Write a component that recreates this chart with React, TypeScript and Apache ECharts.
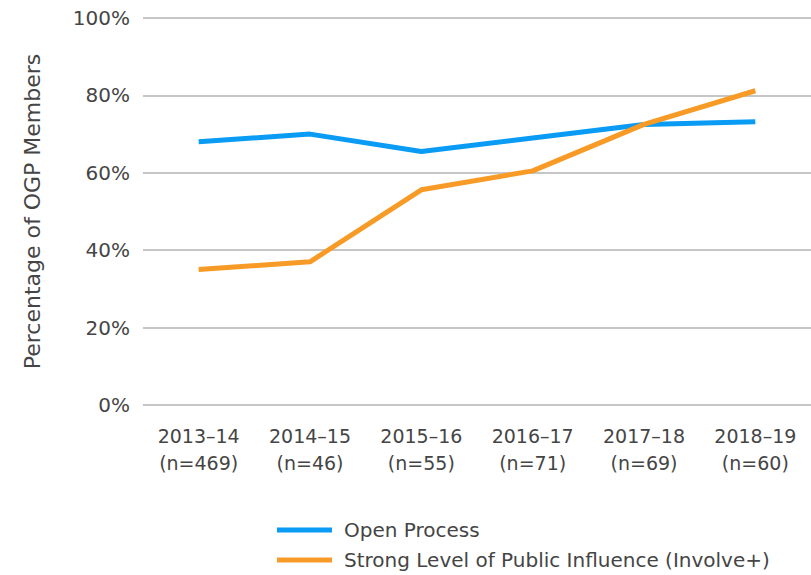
import React, { useEffect, useRef } from "react";
import * as echarts from "echarts";

const categories = [
  "2013–14\n(n=469)",
  "2014–15\n(n=46)",
  "2015–16\n(n=55)",
  "2016–17\n(n=71)",
  "2017–18\n(n=69)",
  "2018–19\n(n=60)",
];
const openProcess = [68, 70, 65.5, 69, 72.5, 73.2];
const strongInfluence = [35, 37, 55.6, 60.5, 72.5, 81.2];
const seriesNames = ["Open Process", "Strong Level of Public Influence (Involve+)"];
const yAxisName = "Percentage of OGP Members";

const FONT = "DejaVu Sans";
const TEXT = "#454545";

export default function App() {
  const ref = useRef<HTMLDivElement>(null);
  useEffect(() => {
    if (!ref.current) return;
    const chart = echarts.init(ref.current, undefined, { renderer: "svg" });
    chart.setOption({
      animation: false,
      textStyle: { fontFamily: FONT },
      grid: { left: 143, right: 0, top: 18, bottom: 170 },
      legend: {
        orient: "vertical",
        left: 277,
        top: 520,
        padding: 0,
        itemWidth: 55,
        itemHeight: 5,
        itemGap: 10,
        icon: "rect",
        textStyle: { fontFamily: FONT, fontSize: 20, color: TEXT, padding: [0, 0, 0, 7] },
        data: seriesNames,
      },
      xAxis: {
        type: "category",
        data: categories,
        boundaryGap: true,
        axisLine: { show: false },
        axisTick: { show: false },
        axisLabel: {
          fontFamily: FONT,
          fontSize: 19,
          color: TEXT,
          lineHeight: 27,
          margin: 17,
          interval: 0,
        },
      },
      yAxis: {
        type: "value",
        min: 0,
        max: 100,
        interval: 20,
        name: yAxisName,
        nameLocation: "middle",
        nameGap: 100,
        nameTextStyle: { fontFamily: FONT, fontSize: 22, color: TEXT },
        axisLine: { show: false },
        axisTick: { show: false },
        axisLabel: {
          fontFamily: FONT,
          fontSize: 20,
          color: TEXT,
          margin: 13,
          formatter: "{value}%",
        },
        splitLine: { lineStyle: { color: "#b3b3b3", width: 1.5 } },
      },
      series: [
        {
          name: seriesNames[0],
          type: "line",
          data: openProcess,
          symbol: "none",
          lineStyle: { color: "#0a9bf5", width: 5 },
          itemStyle: { color: "#0a9bf5" },
        },
        {
          name: seriesNames[1],
          type: "line",
          data: strongInfluence,
          symbol: "none",
          lineStyle: { color: "#f79b26", width: 5 },
          itemStyle: { color: "#f79b26" },
        },
      ],
    });
    return () => chart.dispose();
  }, []);
  return <div ref={ref} style={{ width: 811, height: 575, position: "absolute", left: 0, top: 0 }} />;
}
